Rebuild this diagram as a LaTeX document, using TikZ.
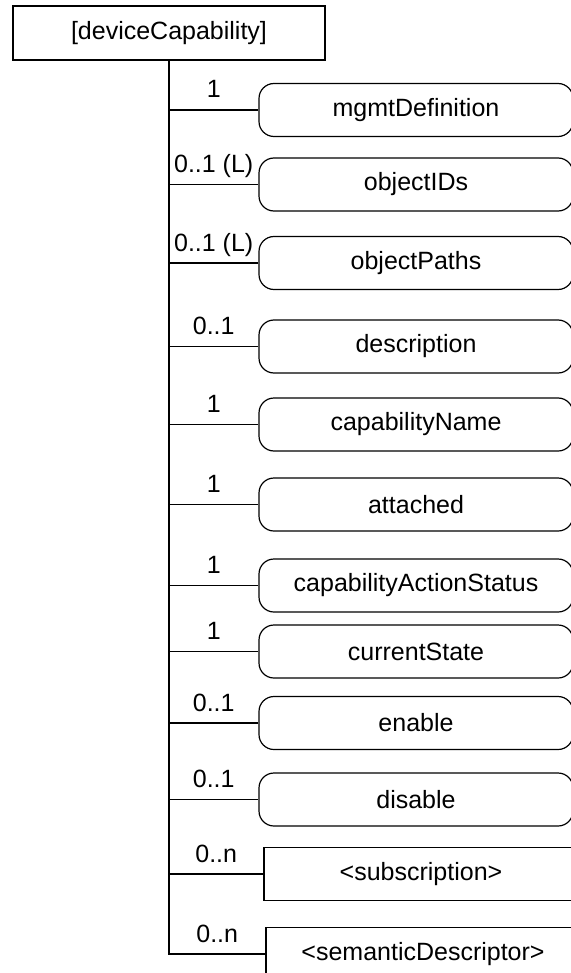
\documentclass[tikz,border=0pt]{standalone}
\usepackage{fontspec}
\setmainfont{Liberation Sans}

\tikzset{
    attrbox/.style={draw, rounded corners=7.5pt, minimum width=157pt, minimum height=26.5pt, inner sep=0pt},
    resbox/.style={draw, minimum width=157pt, minimum height=26.5pt, inner sep=0pt},
    mult/.style={anchor=base, yshift=6pt, inner sep=0pt}
}

\begin{document}
\begin{tikzpicture}[
    x=0.5pt, y=-0.5pt,
    line width=0.6pt,
    font=\fontsize{12.5}{15}\selectfont
]
\useasboundingbox (0,0) rectangle (571,973);
\clip (0,0) rectangle (571,973);

% parent resource
\node[resbox, minimum width=156pt, minimum height=27pt] (devcap) at (169,33) {[deviceCapability]};

% attributes
\node[attrbox] (mgmtdef)   at (416,110)   {mgmtDefinition};
\node[attrbox] (objids)    at (416,184.5) {objectIDs};
\node[attrbox] (objpaths)  at (416,263)   {objectPaths};
\node[attrbox] (descr)     at (416,346.5) {description};
\node[attrbox] (capname)   at (416,424.5) {capabilityName};
\node[attrbox] (attached)  at (416,504.5) {attached};
\node[attrbox] (capstatus) at (416,585.5) {capabilityActionStatus};
\node[attrbox] (curstate)  at (416,651.5) {currentState};
\node[attrbox] (enable)    at (416,723)   {enable};
\node[attrbox] (disable)   at (416,799.5) {disable};

% child resources
\node[resbox] (subscr)  at (421,874) {<subscription>};
\node[resbox] (semdesc) at (423,954) {<semanticDescriptor>};

% tree
\draw (devcap.south) |- (semdesc.west);
\draw (devcap.south |- mgmtdef.west)   -- node[mult] {1} (mgmtdef.west);
\draw (devcap.south |- objids.west)    -- node[mult] {0..1 (L)} (objids.west);
\draw (devcap.south |- objpaths.west)  -- node[mult] {0..1 (L)} (objpaths.west);
\draw (devcap.south |- descr.west)     -- node[mult] {0..1} (descr.west);
\draw (devcap.south |- capname.west)   -- node[mult] {1} (capname.west);
\draw (devcap.south |- attached.west)  -- node[mult] {1} (attached.west);
\draw (devcap.south |- capstatus.west) -- node[mult] {1} (capstatus.west);
\draw (devcap.south |- curstate.west)  -- node[mult] {1} (curstate.west);
\draw (devcap.south |- enable.west)    -- node[mult] {0..1} (enable.west);
\draw (devcap.south |- disable.west)   -- node[mult] {0..1} (disable.west);
\draw (devcap.south |- subscr.west)    -- node[mult] {0..n} (subscr.west);
\path (devcap.south |- semdesc.west)   -- node[mult] {0..n} (semdesc.west);
\end{tikzpicture}
\end{document}
